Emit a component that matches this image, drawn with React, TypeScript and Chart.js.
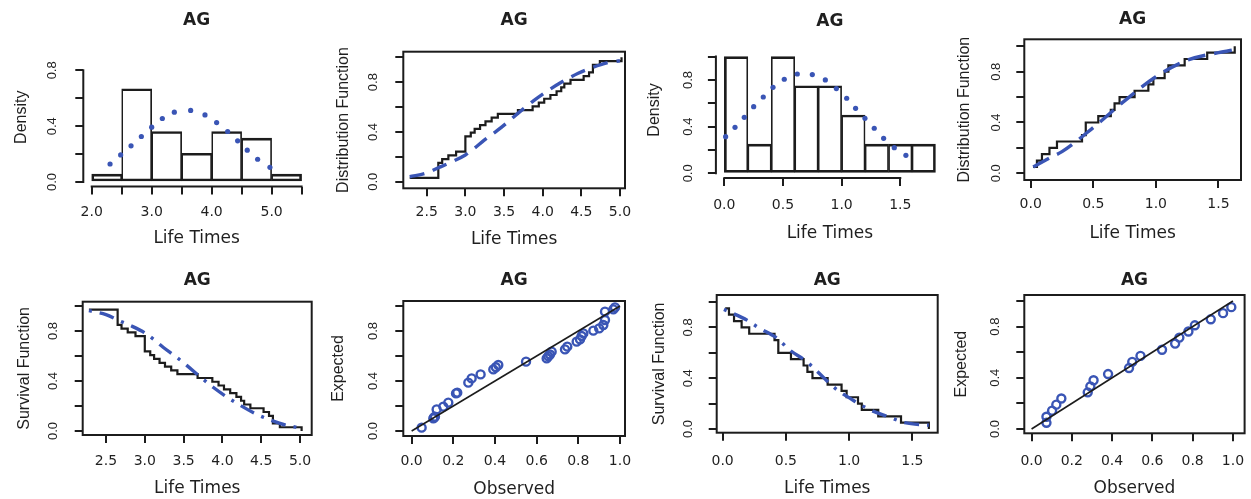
import React, { useEffect, useRef } from 'react';
import { Chart, registerables } from 'chart.js';

Chart.register(...registerables);

// ================= DATA : sample A (columns 1-2) =================
const histABinMids = [2.25, 2.75, 3.25, 3.75, 4.25, 4.75, 5.25];
const histADensity = [0.057, 0.668, 0.362, 0.206, 0.362, 0.314, 0.057];
const pdfAX = [2.306, 2.483, 2.656, 2.828, 3.0, 3.178, 3.378, 3.65, 3.889, 4.083, 4.267, 4.433, 4.594, 4.767, 4.972];
const pdfAY = [0.129, 0.194, 0.259, 0.326, 0.393, 0.455, 0.5, 0.513, 0.481, 0.426, 0.362, 0.295, 0.228, 0.163, 0.105];

const ecdfAX = [2.28, 2.65, 2.7, 2.78, 2.88, 3.0, 3.07, 3.12, 3.19, 3.26, 3.34, 3.42, 3.68, 3.87, 3.95, 4.02, 4.1, 4.18, 4.24, 4.28, 4.36, 4.53, 4.6, 4.65, 4.74, 5.02];
const ecdfAY = [0.03, 0.152, 0.182, 0.212, 0.242, 0.364, 0.394, 0.424, 0.455, 0.485, 0.515, 0.545, 0.576, 0.606, 0.636, 0.667, 0.697, 0.727, 0.758, 0.788, 0.818, 0.848, 0.879, 0.939, 0.97, 1.0];
const survAY = [0.97, 0.848, 0.818, 0.788, 0.758, 0.636, 0.606, 0.576, 0.545, 0.515, 0.485, 0.455, 0.424, 0.394, 0.364, 0.333, 0.303, 0.273, 0.242, 0.212, 0.182, 0.152, 0.121, 0.061, 0.03, 0.0];

const cdfAX = [2.28, 2.5, 2.66, 2.81, 3.0, 3.11, 3.24, 3.41, 3.54, 3.71, 3.88, 4.05, 4.23, 4.46, 4.61, 4.83, 5.0];
const cdfAY = [0.04, 0.07, 0.115, 0.155, 0.215, 0.265, 0.332, 0.41, 0.475, 0.565, 0.65, 0.725, 0.795, 0.872, 0.91, 0.955, 0.972];
const sfAX = [2.28, 2.5, 2.66, 2.81, 3.0, 3.11, 3.24, 3.41, 3.54, 3.71, 3.88, 4.05, 4.23, 4.46, 4.61, 4.83, 5.0];
const sfAY = [0.962, 0.93, 0.885, 0.845, 0.785, 0.735, 0.668, 0.59, 0.525, 0.435, 0.35, 0.275, 0.205, 0.128, 0.09, 0.045, 0.025];

const ppAObserved = [0.048, 0.104, 0.108, 0.112, 0.12, 0.152, 0.176, 0.213, 0.219, 0.272, 0.288, 0.331, 0.392, 0.404, 0.416, 0.549, 0.648, 0.656, 0.664, 0.672, 0.736, 0.747, 0.792, 0.808, 0.816, 0.824, 0.872, 0.9, 0.92, 0.928, 0.928, 0.968, 0.976];
const ppAExpected = [0.027, 0.101, 0.108, 0.115, 0.173, 0.195, 0.227, 0.301, 0.307, 0.387, 0.421, 0.453, 0.493, 0.51, 0.528, 0.555, 0.581, 0.598, 0.612, 0.635, 0.653, 0.675, 0.715, 0.733, 0.76, 0.781, 0.803, 0.821, 0.848, 0.888, 0.955, 0.973, 0.989];

// ================= DATA : sample B (columns 3-4) =================
const histBBinMids = [0.1, 0.3, 0.5, 0.7, 0.9, 1.1, 1.3, 1.5, 1.7];
const histBDensity = [1.0, 0.25, 1.0, 0.75, 0.75, 0.5, 0.25, 0.25, 0.25];
const pdfBX = [0.011, 0.091, 0.17, 0.25, 0.332, 0.415, 0.511, 0.622, 0.75, 0.861, 0.955, 1.043, 1.119, 1.199, 1.278, 1.358, 1.449, 1.548];
const pdfBY = [0.314, 0.394, 0.48, 0.571, 0.654, 0.737, 0.806, 0.851, 0.846, 0.8, 0.726, 0.643, 0.557, 0.471, 0.386, 0.3, 0.22, 0.154];

const ecdfBX = [0.02, 0.05, 0.09, 0.15, 0.21, 0.41, 0.44, 0.54, 0.64, 0.67, 0.71, 0.83, 0.94, 0.98, 1.07, 1.1, 1.23, 1.41, 1.63];
const ecdfBY = [0.05, 0.1, 0.15, 0.2, 0.25, 0.3, 0.4, 0.45, 0.5, 0.55, 0.6, 0.65, 0.7, 0.75, 0.8, 0.85, 0.9, 0.95, 1.0];
const survBY = [0.95, 0.9, 0.85, 0.8, 0.75, 0.7, 0.6, 0.55, 0.5, 0.45, 0.4, 0.35, 0.3, 0.25, 0.2, 0.15, 0.1, 0.05, 0.0];

const cdfBX = [0.02, 0.17, 0.25, 0.5, 0.75, 1.0, 1.25, 1.5, 1.64];
const cdfBY = [0.05, 0.13, 0.17, 0.36, 0.57, 0.76, 0.89, 0.95, 0.975];
const sfBX = [0.01, 0.2, 0.28, 0.43, 0.53, 0.665, 0.785, 0.89, 1.05, 1.18, 1.31, 1.44, 1.63];
const sfBY = [0.942, 0.853, 0.8, 0.714, 0.622, 0.53, 0.417, 0.32, 0.215, 0.144, 0.097, 0.05, 0.03];

const ppBObserved = [0.074, 0.074, 0.102, 0.123, 0.148, 0.279, 0.292, 0.308, 0.38, 0.484, 0.5, 0.541, 0.648, 0.713, 0.734, 0.779, 0.811, 0.89, 0.951, 0.992];
const ppBExpected = [0.048, 0.095, 0.143, 0.19, 0.238, 0.286, 0.333, 0.381, 0.429, 0.476, 0.524, 0.571, 0.619, 0.667, 0.714, 0.762, 0.81, 0.857, 0.905, 0.952];

const diagRef = [0, 1];

// ================= TICKS =================
const histAXTicks = [2, 2.5, 3, 3.5, 4, 4.5, 5, 5.5];
const histAXLabels = ['2.0', '', '3.0', '', '4.0', '', '5.0', ''];
const histAYTicks = [0, 0.2, 0.4, 0.6, 0.8];
const histAYLabels = ['0.0', '', '0.4', '', '0.8'];
const lifeAXTicks = [2.5, 3, 3.5, 4, 4.5, 5];
const lifeAXLabels = ['2.5', '3.0', '3.5', '4.0', '4.5', '5.0'];
const lifeBXTicks = [0, 0.5, 1, 1.5];
const lifeBXLabels = ['0.0', '0.5', '1.0', '1.5'];
const probTicks = [0, 0.2, 0.4, 0.6, 0.8, 1];
const probYLabels = ['0.0', '', '0.4', '', '0.8', ''];
const probXLabels = ['0.0', '0.2', '0.4', '0.6', '0.8', '1.0'];

// ================= STYLE =================
const BLUE = '#3a55b5';
const INK = '#1c1c1c';
const TEXT = '#1f1f1f';
const SANS = "'DejaVu Sans', 'Liberation Sans', sans-serif";
const HELV = "'Liberation Sans', Arial, sans-serif";
const TITLE_SIZE = 17;
const XTITLE_SIZE = 17;
const YTITLE_SIZE = 16;
const YTICK_SIZE = 13;
const TICK_LEN = 8;

const pts = (xs: number[], ys: number[]) => xs.map((x, i) => ({ x, y: ys[i] }));

const rFrame = {
  id: 'rFrame',
  afterDraw(chart: any, _args: any, opts: any) {
    const { ctx, chartArea: a, scales } = chart;
    ctx.save();
    ctx.strokeStyle = INK;
    ctx.lineWidth = 2;
    if (opts.box) {
      ctx.strokeRect(a.left, a.top, a.right - a.left, a.bottom - a.top);
    } else {
      const xs = scales.x;
      const ys = scales.y;
      const xt = xs.ticks;
      const yt = ys.ticks;
      ctx.beginPath();
      ctx.moveTo(xs.getPixelForValue(xt[0].value) - 1, a.bottom);
      ctx.lineTo(xs.getPixelForValue(xt[xt.length - 1].value) + 1, a.bottom);
      ctx.moveTo(a.left, ys.getPixelForValue(yt[0].value) + 1);
      ctx.lineTo(a.left, ys.getPixelForValue(yt[yt.length - 1].value) - 1);
      ctx.stroke();
    }
    ctx.restore();
  },
};

function histDatasets(mids: number[], dens: number[], px: number[], py: number[]) {
  const last = mids.length - 1;
  return [
    {
      type: 'scatter',
      data: pts(px, py),
      pointRadius: 2.6,
      pointBackgroundColor: BLUE,
      pointBorderWidth: 0,
      showLine: false,
      order: 0,
    },
    {
      type: 'bar',
      data: pts(mids, dens),
      backgroundColor: 'rgba(255,255,255,0)',
      borderColor: INK,
      borderWidth: (c: any) => ({
        top: 2,
        bottom: 2,
        left: c.dataIndex === 0 ? 2 : 1,
        right: c.dataIndex === last ? 2 : 1,
      }),
      borderSkipped: false,
      barPercentage: 1,
      categoryPercentage: 1,
      order: 1,
    },
  ];
}

function stepDatasets(sx: number[], sy: number[], fx: number[], fy: number[], dash: number[]) {
  return [
    {
      type: 'line',
      data: pts(fx, fy),
      borderColor: BLUE,
      borderWidth: 3.4,
      borderDash: dash,
      pointRadius: 0,
      cubicInterpolationMode: 'monotone',
      fill: false,
      order: 0,
    },
    {
      type: 'line',
      data: pts(sx, sy),
      borderColor: INK,
      borderWidth: 2.2,
      pointRadius: 0,
      stepped: 'before',
      fill: false,
      order: 1,
    },
  ];
}

function ppDatasets(ox: number[], ey: number[]) {
  return [
    {
      type: 'line',
      data: pts(diagRef, diagRef),
      borderColor: INK,
      borderWidth: 1.6,
      pointRadius: 0,
      fill: false,
      order: 0,
    },
    {
      type: 'scatter',
      data: pts(ox, ey),
      pointRadius: 4,
      pointBorderWidth: 2.4,
      pointBorderColor: BLUE,
      pointBackgroundColor: 'rgba(0,0,0,0)',
      order: 1,
    },
  ];
}

type Spec = {
  key: string;
  cx: number; cy: number; cw: number; ch: number;
  L: number; R: number; T: number; B: number;
  ty: number; ylx: number; ytx: number; xly: number; xty: number;
  xmin: number; xmax: number; ymin: number; ymax: number;
  xTicks: number[]; xLabels: string[]; yTicks: number[]; yLabels: string[];
  xTitle: string; yTitle: string; box: boolean; xTickSize: number;
  datasets: any[];
};

const panels: Spec[] = [
  {
    key: 'p1', cx: 0, cy: 0, cw: 316, ch: 250,
    L: 83.3, R: 310, T: 48, B: 186.5,
    ty: 21, ylx: 52, ytx: 22, xly: 212, xty: 239,
    xmin: 1.86, xmax: 5.64, ymin: -0.032, ymax: 0.96,
    xTicks: histAXTicks, xLabels: histAXLabels, yTicks: histAYTicks, yLabels: histAYLabels,
    xTitle: 'Life Times', yTitle: 'Density', box: false, xTickSize: 14,
    datasets: histDatasets(histABinMids, histADensity, pdfAX, pdfAY),
  },
  {
    key: 'p2', cx: 312, cy: 0, cw: 322, ch: 250,
    L: 403.3, R: 625, T: 51.7, B: 188.3,
    ty: 20.7, ylx: 373.3, ytx: 343.3, xly: 212.7, xty: 240,
    xmin: 2.197, xmax: 5.065, ymin: -0.053, ymax: 1.045,
    xTicks: lifeAXTicks, xLabels: lifeAXLabels, yTicks: probTicks, yLabels: probYLabels,
    xTitle: 'Life Times', yTitle: 'Distribution Function', box: true, xTickSize: 14,
    datasets: stepDatasets(ecdfAX, ecdfAY, cdfAX, cdfAY, [15, 9]),
  },
  {
    key: 'p3', cx: 630, cy: 0, cw: 320, ch: 250,
    L: 715.9, R: 943.9, T: 42, B: 178,
    ty: 21.7, ylx: 688.3, ytx: 655, xly: 205, xty: 233.3,
    xmin: -0.072, xmax: 1.872, ymin: -0.04, ymax: 1.125,
    xTicks: lifeBXTicks, xLabels: lifeBXLabels, yTicks: probTicks, yLabels: probYLabels,
    xTitle: 'Life Times', yTitle: 'Density', box: false, xTickSize: 14,
    datasets: histDatasets(histBBinMids, histBDensity, pdfBX, pdfBY),
  },
  {
    key: 'p4', cx: 945, cy: 0, cw: 306, ch: 250,
    L: 1024.3, R: 1241, T: 39.3, B: 180,
    ty: 20, ylx: 996.7, ytx: 965, xly: 204, xty: 233.3,
    xmin: -0.051, xmax: 1.68, ymin: -0.053, ymax: 1.055,
    xTicks: lifeBXTicks, xLabels: lifeBXLabels, yTicks: probTicks, yLabels: probYLabels,
    xTitle: 'Life Times', yTitle: 'Distribution Function', box: true, xTickSize: 14,
    datasets: stepDatasets(ecdfBX, ecdfBY, cdfBX, cdfBY, [18, 9]),
  },
  {
    key: 'p5', cx: 0, cy: 250, cw: 316, ch: 249,
    L: 82.7, R: 311.7, T: 301.7, B: 435,
    ty: 280.7, ylx: 53.3, ytx: 25, xly: 461.7, xty: 488.3,
    xmin: 2.2, xmax: 5.15, ymin: -0.032, ymax: 1.034,
    xTicks: lifeAXTicks, xLabels: lifeAXLabels, yTicks: probTicks, yLabels: probYLabels,
    xTitle: 'Life Times', yTitle: 'Survival Function', box: true, xTickSize: 14,
    datasets: stepDatasets(ecdfAX, survAY, sfAX, sfAY, [3, 8, 15, 8]),
  },
  {
    key: 'p6', cx: 312, cy: 250, cw: 322, ch: 249,
    L: 403.3, R: 625, T: 301, B: 436,
    ty: 280.7, ylx: 373.3, ytx: 338.3, xly: 461.7, xty: 489.3,
    xmin: -0.04, xmax: 1.024, ymin: -0.04, ymax: 1.04,
    xTicks: probTicks, xLabels: probXLabels, yTicks: probTicks, yLabels: probYLabels,
    xTitle: 'Observed', yTitle: 'Expected', box: true, xTickSize: 14,
    datasets: ppDatasets(ppAObserved, ppAExpected),
  },
  {
    key: 'p7', cx: 630, cy: 250, cw: 320, ch: 249,
    L: 716.7, R: 937.7, T: 295, B: 432.7,
    ty: 280.7, ylx: 688.3, ytx: 660, xly: 461.7, xty: 488.3,
    xmin: -0.047, xmax: 1.7, ymin: -0.029, ymax: 1.055,
    xTicks: lifeBXTicks, xLabels: lifeBXLabels, yTicks: probTicks, yLabels: probYLabels,
    xTitle: 'Life Times', yTitle: 'Survival Function', box: true, xTickSize: 14,
    datasets: stepDatasets(ecdfBX, survBY, sfBX, sfBY, [3, 8, 15, 8]),
  },
  {
    key: 'p8', cx: 945, cy: 250, cw: 306, ch: 249,
    L: 1024.3, R: 1246.7, T: 295, B: 433.3,
    ty: 280.7, ylx: 995, ytx: 961.7, xly: 461.7, xty: 488.3,
    xmin: -0.036, xmax: 1.058, ymin: -0.034, ymax: 1.047,
    xTicks: probTicks, xLabels: probXLabels, yTicks: probTicks, yLabels: probYLabels,
    xTitle: 'Observed', yTitle: 'Expected', box: true, xTickSize: 14,
    datasets: ppDatasets(ppBObserved, ppBExpected),
  },
];

function buildConfig(p: Spec): any {
  const relL = p.L - p.cx;
  const relR = p.R - p.cx;
  const relT = p.T - p.cy;
  const relB = p.B - p.cy;
  const titleLH = TITLE_SIZE * 1.2;
  const xtLH = XTITLE_SIZE * 1.2;
  const ytLH = YTITLE_SIZE * 1.2;
  const xkLH = p.xTickSize * 1.2;
  const yTickHalf = (YTICK_SIZE * 1.39) / 2;

  const yAxisW = relL;
  const yTickPad = relL - (p.ylx - p.cx) - TICK_LEN - yTickHalf;
  const yTitlePad = (p.ytx - p.cx) - ytLH / 2;
  const xAxisH = p.ch - relB;
  const xTickPad = (p.xly - p.B) - TICK_LEN - xkLH / 2;
  const xTitlePad = p.ch - (p.xty - p.cy) - xtLH / 2;
  const titleTop = (p.ty - p.cy) - titleLH / 2;
  const titleBottom = relT - titleTop - titleLH;
  const padRight = p.cw - relR;

  const gridOpts = {
    offset: false,
    drawOnChartArea: false,
    drawTicks: true,
    tickLength: TICK_LEN,
    color: INK,
    lineWidth: 2,
  };

  return {
    type: 'scatter',
    data: { datasets: p.datasets },
    plugins: [rFrame],
    options: {
      animation: false,
      responsive: false,
      devicePixelRatio: 1,
      events: [],
      layout: { padding: { left: 0, right: padRight, top: 0, bottom: 0 } },
      plugins: {
        legend: { display: false },
        tooltip: { enabled: false },
        title: {
          display: true,
          text: 'AG',
          fullSize: false,
          color: TEXT,
          font: { family: SANS, size: TITLE_SIZE, weight: 'bold' },
          padding: { top: titleTop, bottom: titleBottom },
        },
        rFrame: { box: p.box },
      },
      scales: {
        x: {
          type: 'linear',
          min: p.xmin,
          max: p.xmax,
          offset: false,
          afterBuildTicks: (s: any) => {
            s.ticks = p.xTicks.map((v) => ({ value: v }));
          },
          afterFit: (s: any) => {
            s.height = xAxisH;
            s.paddingLeft = 0;
            s.paddingRight = 0;
          },
          ticks: {
            autoSkip: false,
            minRotation: 0,
            maxRotation: 0,
            padding: xTickPad,
            color: TEXT,
            font: { family: SANS, size: p.xTickSize },
            callback: (_v: any, i: number) => p.xLabels[i] ?? '',
          },
          grid: gridOpts,
          border: { display: false },
          title: {
            display: true,
            text: p.xTitle,
            color: TEXT,
            font: { family: SANS, size: XTITLE_SIZE },
            padding: { top: 0, bottom: xTitlePad },
          },
        },
        y: {
          type: 'linear',
          min: p.ymin,
          max: p.ymax,
          offset: false,
          afterBuildTicks: (s: any) => {
            s.ticks = p.yTicks.map((v) => ({ value: v }));
          },
          afterFit: (s: any) => {
            s.width = yAxisW;
            s.paddingTop = 0;
            s.paddingBottom = 0;
          },
          ticks: {
            autoSkip: false,
            minRotation: 90,
            maxRotation: 90,
            crossAlign: 'center',
            padding: yTickPad,
            color: TEXT,
            font: { family: HELV, size: YTICK_SIZE },
            callback: (_v: any, i: number) => p.yLabels[i] ?? '',
          },
          grid: gridOpts,
          border: { display: false },
          title: {
            display: true,
            text: p.yTitle,
            color: TEXT,
            font: { family: HELV, size: YTITLE_SIZE },
            padding: { top: yTitlePad, bottom: 0 },
          },
        },
      },
    },
  };
}

function Panel({ spec }: { spec: Spec }) {
  const ref = useRef<HTMLCanvasElement | null>(null);
  useEffect(() => {
    if (!ref.current) return;
    const chart = new Chart(ref.current, buildConfig(spec));
    return () => chart.destroy();
  }, [spec]);
  return (
    <canvas
      ref={ref}
      width={spec.cw}
      height={spec.ch}
      style={{ position: 'absolute', left: spec.cx, top: spec.cy, width: spec.cw, height: spec.ch }}
    />
  );
}

export default function App() {
  return (
    <div
      style={{
        position: 'absolute',
        left: 0,
        top: 0,
        width: 1251,
        height: 499,
        background: '#ffffff',
        overflow: 'hidden',
      }}
    >
      {panels.map((p) => (
        <Panel key={p.key} spec={p} />
      ))}
    </div>
  );
}
